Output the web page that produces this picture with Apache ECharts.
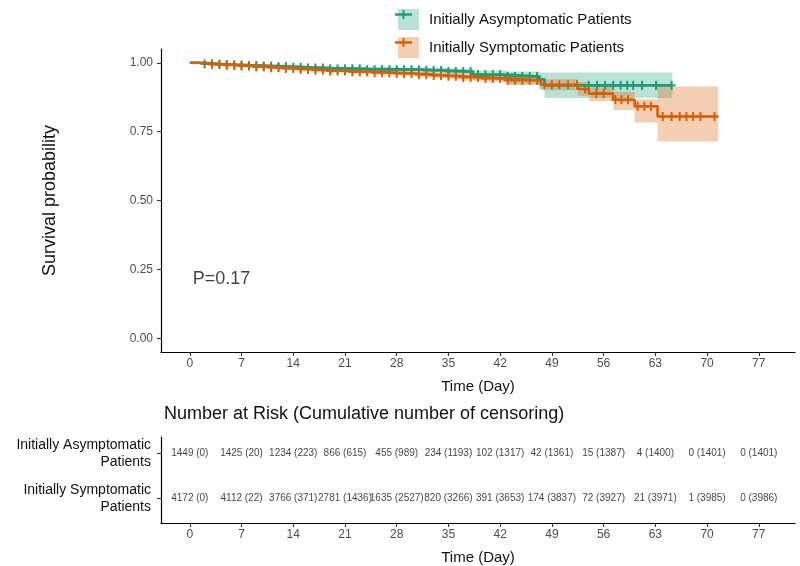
<!DOCTYPE html>
<html><head><meta charset="utf-8">
<script src="https://cdn.jsdelivr.net/npm/echarts@6/dist/echarts.min.js"></script>
<style>html,body{margin:0;padding:0;background:#fff}#c{width:800px;height:566px}</style>
</head><body><div id="c"></div>
<script>
// ---------------- data ----------------
const groupNames = ['Initially Asymptomatic Patients', 'Initially Symptomatic Patients'];
const dayTicks = [0, 7, 14, 21, 28, 35, 42, 49, 56, 63, 70, 77];
const survTicks = [0, 0.25, 0.5, 0.75, 1];
const survTickLabels = ['0.00', '0.25', '0.50', '0.75', '1.00'];

// Initially asymptomatic: KM steps (time, survival, lower CI, upper CI)
const asymTimes = [0, 2, 4, 6, 8, 10, 12, 14, 16, 19, 24, 31.5, 35, 38.3, 43, 47.2, 48];
const asymSurv  = [1, 0.996, 0.994, 0.992, 0.99, 0.988, 0.986, 0.984, 0.981, 0.978, 0.975, 0.972, 0.968, 0.957, 0.95, 0.94, 0.918];
const asymLower = [1, 0.993, 0.99, 0.988, 0.985, 0.983, 0.98, 0.978, 0.975, 0.971, 0.967, 0.962, 0.957, 0.937, 0.92, 0.905, 0.872];
const asymUpper = [1, 0.999, 0.998, 0.996, 0.995, 0.993, 0.992, 0.99, 0.988, 0.985, 0.983, 0.981, 0.978, 0.972, 0.968, 0.965, 0.965];
const asymEnd = 65.3;
const asymCensor = [2, 3, 4, 5, 6, 7, 8, 9, 10, 11, 12, 13, 14, 15, 16, 17, 18, 19, 20, 21, 22, 23, 24, 25, 26, 27, 28, 29, 30, 31, 32, 33, 34, 35, 36, 37, 38, 39, 40, 41, 42, 43, 44, 45, 46, 47, 54, 55.1, 56.2, 57.3, 58.3, 59.2, 60, 61.2, 63.1, 65.2];

// Initially symptomatic
const symTimes = [0, 1, 2, 3, 5, 7, 9, 11, 13, 15, 17, 19, 22, 25, 28, 30.7, 33, 35, 37, 40, 43, 47.5, 52.5, 54, 57.3, 60.2, 63.3];
const symSurv  = [1, 0.998, 0.996, 0.994, 0.991, 0.988, 0.985, 0.982, 0.979, 0.976, 0.973, 0.97, 0.967, 0.964, 0.961, 0.957, 0.954, 0.951, 0.947, 0.943, 0.936, 0.92, 0.905, 0.888, 0.866, 0.842, 0.805];
const symLower = [1, 0.997, 0.994, 0.992, 0.988, 0.985, 0.982, 0.978, 0.975, 0.972, 0.968, 0.965, 0.961, 0.957, 0.954, 0.949, 0.945, 0.941, 0.936, 0.931, 0.922, 0.9, 0.88, 0.86, 0.829, 0.783, 0.714];
const symUpper = [1, 0.999, 0.998, 0.996, 0.994, 0.991, 0.988, 0.986, 0.983, 0.98, 0.978, 0.975, 0.973, 0.97, 0.968, 0.965, 0.962, 0.96, 0.957, 0.954, 0.95, 0.94, 0.93, 0.914, 0.895, 0.868, 0.914];
const symEnd = 71.5;
const symCensor = [3, 4, 5, 6, 7, 8, 9, 10, 11, 12, 13, 14, 15, 16, 17, 18, 19, 20, 21, 22, 23, 24, 25, 26, 27, 28, 29, 30, 31, 32, 33, 34, 35, 36, 37, 38, 39, 40, 41, 42, 43, 44, 45, 46, 47, 48, 49, 50, 51.2, 52.4, 53.5, 55, 56, 57.6, 58.4, 59.3, 60.6, 61.5, 62.4, 64, 65.2, 66.3, 67.2, 68.1, 69.1, 71];

// Number at risk table
const riskDays = [0, 7, 14, 21, 28, 35, 42, 49, 56, 63, 70, 77];
const asymAtRisk   = [1449, 1425, 1234, 866, 455, 234, 102, 42, 15, 4, 0, 0];
const asymCensored = [0, 20, 223, 615, 989, 1193, 1317, 1361, 1387, 1400, 1401, 1401];
const symAtRisk    = [4172, 4112, 3766, 2781, 1635, 820, 391, 174, 72, 21, 1, 0];
const symCensored  = [0, 22, 371, 1436, 2527, 3266, 3653, 3837, 3927, 3971, 3985, 3986];
const rowLabels = ['Initially Symptomatic\nPatients', 'Initially Asymptomatic\nPatients'];
const pValueText = 'P=0.17';
const pValuePos = [0.4, 0.215];

// ---------------- styles ----------------
const FONT = 'Liberation Sans, Arial, sans-serif';
const lineColors = ['#1b9e77', '#d95f02'];
const bandColors = ['rgba(27,158,119,0.3)', 'rgba(217,95,2,0.3)'];
const tickGrey = '#4d4d4d';

function stepAt(times, vals, t) {
  let v = vals[0];
  for (let i = 0; i < times.length; i++) { if (times[i] <= t) v = vals[i]; }
  return v;
}
function lineData(times, surv, end) {
  const d = times.map((t, i) => [t, surv[i]]);
  d.push([end, surv[surv.length - 1]]);
  return d;
}
function bandSeries(name, times, lo, up, end, color) {
  return {
    type: 'custom', name, xAxisIndex: 0, yAxisIndex: 0, clip: true, silent: true,
    itemStyle: { color },
    data: [[0, 1]],
    renderItem(params, api) {
      const upper = [], lower = [];
      for (let i = 0; i < times.length; i++) {
        const t0 = times[i], t1 = i + 1 < times.length ? times[i + 1] : end;
        upper.push(api.coord([t0, up[i]]), api.coord([t1, up[i]]));
        lower.push(api.coord([t0, lo[i]]), api.coord([t1, lo[i]]));
      }
      return { type: 'polygon', shape: { points: upper.concat(lower.reverse()) }, style: { fill: color } };
    }
  };
}
function censorSeries(name, censor, times, surv, color) {
  return {
    type: 'custom', name, xAxisIndex: 0, yAxisIndex: 0, silent: true,
    itemStyle: { color },
    data: censor.map(t => [t, stepAt(times, surv, t)]),
    renderItem(params, api) {
      const c = api.coord([api.value(0), api.value(1)]);
      return { type: 'group', children: [
        { type: 'line', shape: { x1: c[0], y1: c[1] - 4.5, x2: c[0], y2: c[1] + 4.5 }, style: { stroke: color, lineWidth: 2 } },
        { type: 'line', shape: { x1: c[0] - 4, y1: c[1], x2: c[0] + 4, y2: c[1] }, style: { stroke: color, lineWidth: 2 } }
      ] };
    }
  };
}
function tableSeries(row, atRisk, cens) {
  return {
    type: 'scatter', xAxisIndex: 1, yAxisIndex: 1, symbolSize: 0.01, silent: true,
    itemStyle: { color: 'rgba(0,0,0,0)' },
    label: { show: true, position: 'inside', color: '#111', fontSize: 10, fontFamily: FONT,
      formatter: p => p.data[2] },
    data: riskDays.map((d, i) => [d, row, atRisk[i] + ' (' + cens[i] + ')'])
  };
}

const axisCommonX = {
  type: 'value', min: -3.9, max: 81.9,
  axisLine: { show: true, onZero: false, lineStyle: { color: '#000', width: 1.2 } },
  axisTick: { show: true, customValues: dayTicks, length: 4, lineStyle: { color: '#333', width: 1.1 } },
  axisLabel: { customValues: dayTicks, color: tickGrey, fontSize: 12, fontFamily: FONT, margin: 6 },
  splitLine: { show: false },
  name: 'Time (Day)', nameLocation: 'middle', nameGap: 27,
  nameTextStyle: { color: '#111', fontSize: 15, fontFamily: FONT }
};

const option = {
  backgroundColor: '#fff',
  animation: false,
  textStyle: { fontFamily: FONT },
  title: {
    text: 'Number at Risk (Cumulative number of censoring)',
    left: 159, top: 400,
    textStyle: { fontSize: 18, fontWeight: 'normal', color: '#111', fontFamily: FONT }
  },
  legend: {
    orient: 'vertical', left: 393, top: 4, itemWidth: 21, itemHeight: 21, itemGap: 7,
    icon: 'rect', selectedMode: false,
    textStyle: { fontSize: 15, color: '#111', fontFamily: FONT, padding: [0, 0, 0, 5] },
    data: [
      { name: groupNames[0], itemStyle: { color: bandColors[0] } },
      { name: groupNames[1], itemStyle: { color: bandColors[1] } }
    ]
  },
  graphic: [
    { type: 'line', shape: { x1: 395, y1: 14.5, x2: 412, y2: 14.5 }, style: { stroke: lineColors[0], lineWidth: 2.5 } },
    { type: 'line', shape: { x1: 403.5, y1: 10, x2: 403.5, y2: 19 }, style: { stroke: lineColors[0], lineWidth: 2 } },
    { type: 'line', shape: { x1: 395, y1: 42.5, x2: 412, y2: 42.5 }, style: { stroke: lineColors[1], lineWidth: 2.5 } },
    { type: 'line', shape: { x1: 403.5, y1: 38, x2: 403.5, y2: 47 }, style: { stroke: lineColors[1], lineWidth: 2 } }
  ],
  grid: [
    { left: 161, right: 5, top: 49, height: 303 },
    { left: 161, right: 5, top: 437, height: 90 }
  ],
  xAxis: [
    Object.assign({}, axisCommonX, { gridIndex: 0 }),
    Object.assign({}, axisCommonX, { gridIndex: 1 })
  ],
  yAxis: [
    {
      gridIndex: 0, type: 'value', min: -0.05, max: 1.05,
      axisLine: { show: true, onZero: false, lineStyle: { color: '#000', width: 1.2 } },
      axisTick: { show: true, customValues: survTicks, length: 4, lineStyle: { color: '#333', width: 1.1 } },
      axisLabel: { customValues: survTicks, color: tickGrey, fontSize: 12, fontFamily: FONT, margin: 8,
        formatter: v => survTickLabels[survTicks.indexOf(v)] },
      splitLine: { show: false },
      name: 'Survival probability', nameLocation: 'middle', nameGap: 102,
      nameTextStyle: { color: '#111', fontSize: 18, fontFamily: FONT }
    },
    {
      gridIndex: 1, type: 'value', min: 0.45, max: 2.36,
      axisLine: { show: true, onZero: false, lineStyle: { color: '#000', width: 1.2 } },
      axisTick: { show: true, customValues: [1, 2], length: 4, lineStyle: { color: '#333', width: 1.1 } },
      axisLabel: { customValues: [1, 2], color: '#111', fontSize: 14, fontFamily: FONT, margin: 10, lineHeight: 17,
        align: 'right', formatter: v => rowLabels[v - 1] },
      splitLine: { show: false }
    }
  ],
  series: [
    bandSeries(groupNames[0], asymTimes, asymLower, asymUpper, asymEnd, bandColors[0]),
    bandSeries(groupNames[1], symTimes, symLower, symUpper, symEnd, bandColors[1]),
    { type: 'line', name: groupNames[0], step: 'end', showSymbol: false, silent: true,
      lineStyle: { color: lineColors[0], width: 2.6 }, itemStyle: { color: lineColors[0] },
      data: lineData(asymTimes, asymSurv, asymEnd) },
    censorSeries(groupNames[0], asymCensor, asymTimes, asymSurv, lineColors[0]),
    { type: 'line', name: groupNames[1], step: 'end', showSymbol: false, silent: true,
      lineStyle: { color: lineColors[1], width: 2.6 }, itemStyle: { color: lineColors[1] },
      data: lineData(symTimes, symSurv, symEnd) },
    censorSeries(groupNames[1], symCensor, symTimes, symSurv, lineColors[1]),
    { type: 'scatter', xAxisIndex: 0, yAxisIndex: 0, symbolSize: 0.01, silent: true,
      itemStyle: { color: 'rgba(0,0,0,0)' },
      label: { show: true, position: 'right', distance: 0, color: '#111', fontSize: 18, fontFamily: FONT,
        formatter: pValueText },
      data: [pValuePos] },
    tableSeries(2, asymAtRisk, asymCensored),
    tableSeries(1, symAtRisk, symCensored)
  ]
};
const chart = echarts.init(document.getElementById('c'), null, { renderer: 'canvas' });
chart.setOption(option);
</script>
</body></html>
